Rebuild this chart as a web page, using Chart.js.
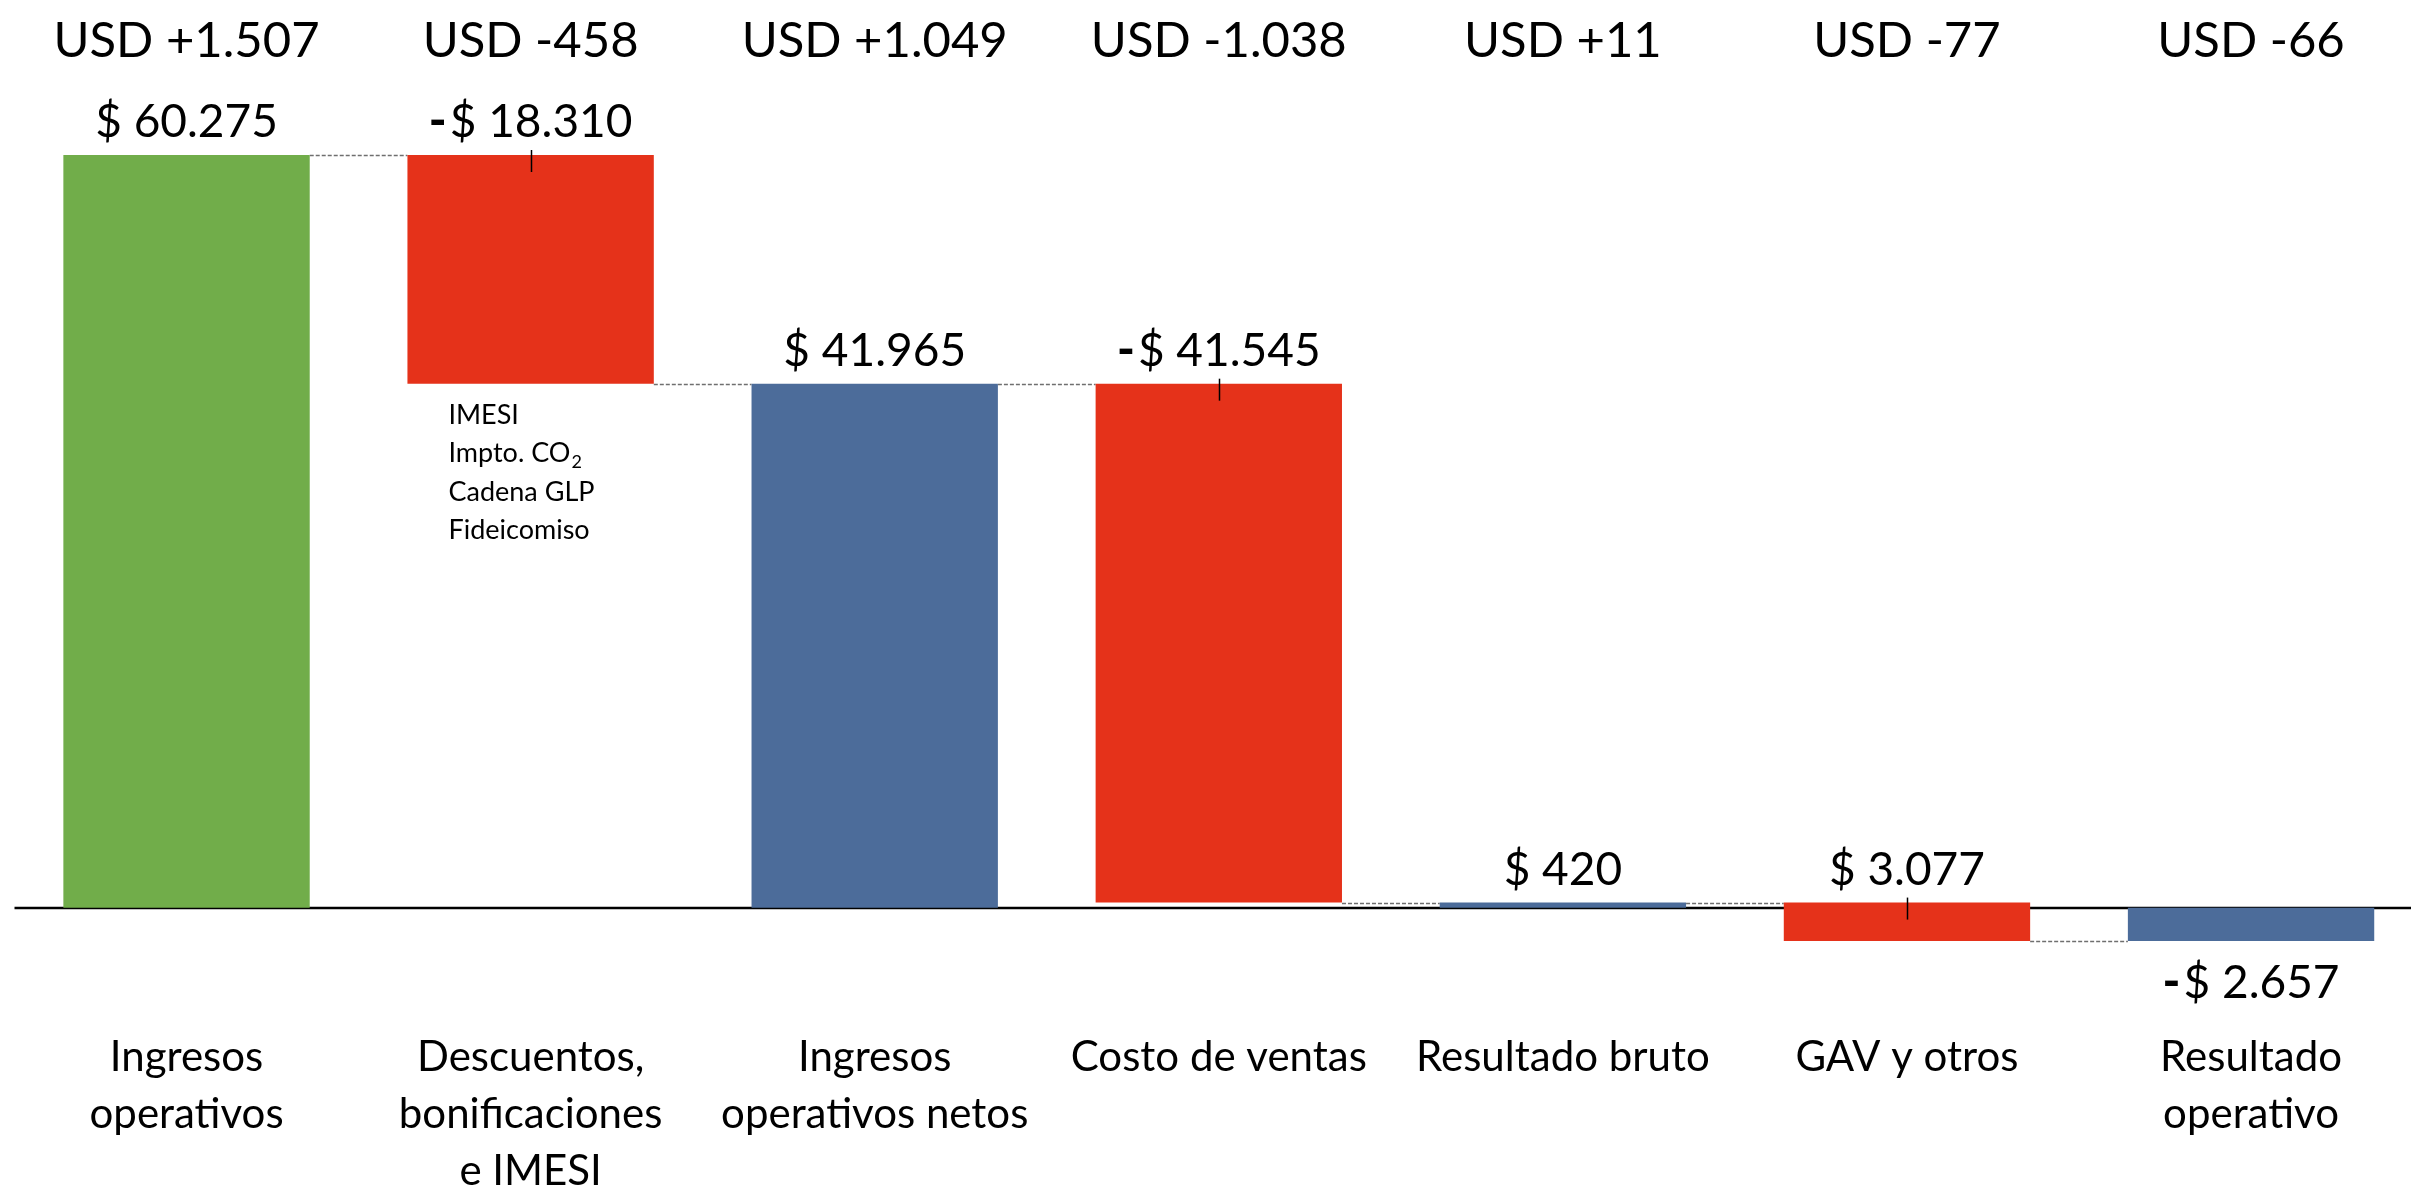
<!DOCTYPE html>
<html><head><meta charset="utf-8">
<script src="https://cdn.jsdelivr.net/npm/chart.js@4/dist/chart.umd.min.js"></script>
<style>
html,body{margin:0;padding:0;background:#fff;overflow:hidden;width:2411px;height:1192px}
#wrap{position:absolute;left:0;top:0;width:2430px;height:1192px}
</style>
</head><body>
<div id="wrap"><canvas id="c" width="2430" height="1192"></canvas></div>
<script>
// ---- data ----
const categories = [
  ['Ingresos','operativos'],
  ['Descuentos,','bonificaciones','e IMESI'],
  ['Ingresos','operativos netos'],
  ['Costo de ventas'],
  ['Resultado bruto'],
  ['GAV y otros'],
  ['Resultado','operativo']
];
const amounts = [60275, -18310, 41965, -41545, 420, -3077, -2657];
const kinds = ['total','delta','total','delta','total','delta','total'];
const valueLabels = ['$ 60.275','-$ 18.310','$ 41.965','-$ 41.545','$ 420','$ 3.077','-$ 2.657'];
const changeLabels = ['USD +1.507','USD -458','USD +1.049','USD -1.038','USD +11','USD -77','USD -66'];
const noteLines = ['IMESI','Impto. CO','Cadena GLP','Fideicomiso'];
const noteSubscript = [null,'2',null,null];

// ---- derived floating ranges ----
const ranges = [], runEnd = [];
let running = 0;
amounts.forEach((v,i)=>{
  if (kinds[i]==='total'){ ranges.push([0,v]); running = v; }
  else { ranges.push([running, running+v]); running = running+v; }
  runEnd.push(running);
});
const GREEN='#71AD4A', RED='#E5321A', BLUE='#4C6C9A';
const colors = amounts.map((v,i)=> i===0 ? GREEN : (kinds[i]==='delta' ? RED : BLUE));
const FONT='Lato';

const wfPlugin = {
  id:'wf',
  beforeDatasetsDraw(chart){
    const ctx=chart.ctx, meta=chart.getDatasetMeta(0), y=chart.scales.y, area=chart.chartArea;
    ctx.save();
    // zero line
    const zy=Math.round(y.getPixelForValue(0));
    ctx.strokeStyle='#000'; ctx.lineWidth=2.5;
    ctx.beginPath(); ctx.moveTo(area.left,zy); ctx.lineTo(area.right,zy); ctx.stroke();
    // connectors
    ctx.strokeStyle='#6f6f6f'; ctx.lineWidth=1.5; ctx.setLineDash([4,2]);
    for(let i=0;i<meta.data.length-1;i++){
      const a=meta.data[i], b=meta.data[i+1];
      const py=Math.round(y.getPixelForValue(runEnd[i]))+0.5;
      ctx.beginPath(); ctx.moveTo(a.x+a.width/2,py); ctx.lineTo(b.x-b.width/2,py); ctx.stroke();
    }
    ctx.restore();
  },
  afterDatasetsDraw(chart){
    const ctx=chart.ctx, meta=chart.getDatasetMeta(0), xs=chart.scales.x;
    ctx.save();
    // tick marks on delta bars
    ctx.strokeStyle='#000'; ctx.lineWidth=1.5;
    meta.data.forEach((el,i)=>{
      if(kinds[i]!=='delta') return;
      const top=Math.min(el.y,el.base);
      ctx.beginPath(); ctx.moveTo(Math.round(el.x)+0.5,top-5); ctx.lineTo(Math.round(el.x)+0.5,top+17); ctx.stroke();
    });
    // change labels on top
    ctx.fillStyle='#000'; ctx.textAlign='center'; ctx.textBaseline='alphabetic';
    ctx.font='49px '+FONT;
    changeLabels.forEach((t,i)=>{ ctx.fillText(t, xs.getPixelForValue(i), 57); });
    // value labels
    meta.data.forEach((el,i)=>{
      const top=Math.min(el.y,el.base), bottom=Math.max(el.y,el.base);
      const below = kinds[i]==='total' && amounts[i]<0;
      const by = below ? bottom+57 : top-18;
      let t=valueLabels[i];
      ctx.textAlign='left';
      if(t.startsWith('-')){
        const rest=t.slice(1);
        ctx.font='900 48px '+FONT; const wd=ctx.measureText('-').width;
        ctx.font='46px '+FONT; const wr=ctx.measureText(rest).width;
        const gap=3, x0=el.x-(wd+gap+wr)/2;
        ctx.font='900 48px '+FONT; ctx.fillText('-',x0,by);
        ctx.font='46px '+FONT; ctx.fillText(rest,x0+wd+gap,by);
      } else {
        ctx.font='46px '+FONT; ctx.textAlign='center'; ctx.fillText(t,el.x,by);
      }
    });
    // note under the discount bar
    const nb=meta.data[1];
    const nx=nb.x-nb.width/2+41, ny=Math.max(nb.y,nb.base)+40;
    ctx.textAlign='left';
    noteLines.forEach((t,k)=>{
      ctx.font='27px '+FONT;
      const yy=ny+k*38.5;
      ctx.fillText(t,nx,yy);
      if(noteSubscript[k]){
        const w=ctx.measureText(t).width;
        ctx.font='18px '+FONT;
        ctx.fillText(noteSubscript[k],nx+w+1,yy+6);
      }
    });
    ctx.restore();
  }
};

new Chart(document.getElementById('c'),{
  type:'bar',
  data:{labels:categories, datasets:[{data:ranges, backgroundColor:colors, borderWidth:0, barPercentage:0.716, categoryPercentage:1}]},
  options:{
    responsive:false, animation:false, devicePixelRatio:1,
    layout:{padding:{left:14.5,top:155,right:0,bottom:0}},
    plugins:{legend:{display:false}, tooltip:{enabled:false}, title:{display:false}},
    scales:{
      x:{grid:{display:false,drawTicks:false}, border:{display:false},
         ticks:{color:'#000', font:{family:FONT,size:42,lineHeight:'57px'}, padding:88, maxRotation:0, autoSkip:false},
         afterFit:s=>{s.height=251;}},
      y:{min:-2657, max:60275, ticks:{display:false}, border:{display:false},
         grid:{display:false, drawTicks:false},
         afterFit:s=>{s.width=0;}}
    }
  },
  plugins:[wfPlugin]
});
</script>
</body></html>
